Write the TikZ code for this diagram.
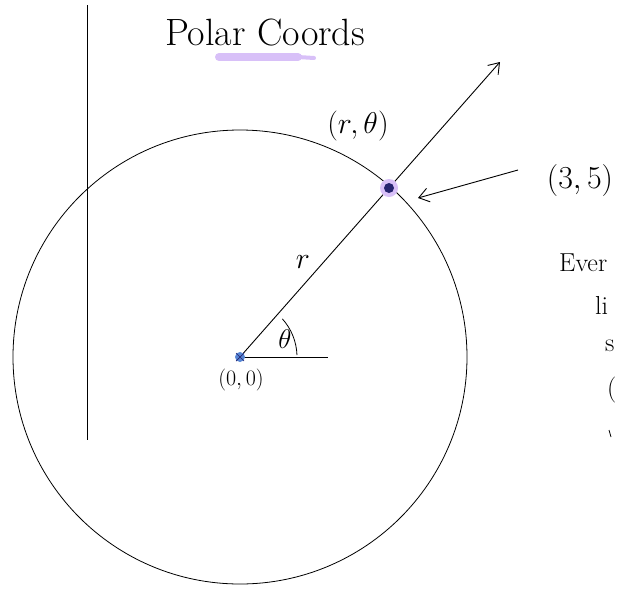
\RequirePackage{fix-cm}
\documentclass[tikz,border=0pt]{standalone}
\usetikzlibrary{positioning,arrows.meta}
\definecolor{lilac}{RGB}{216,192,248}
\definecolor{navy}{RGB}{38,36,112}
\definecolor{dotblue}{RGB}{86,134,212}

\begin{document}
\begin{tikzpicture}[
    x=1pt, y=-1pt,
    handtext/.style={font=\fontsize{30}{32}\selectfont, inner sep=1pt},
    smalltext/.style={font=\fontsize{22}{24}\selectfont, inner sep=1pt},
    notetext/.style={font=\fontsize{26}{28}\selectfont, inner sep=1pt, anchor=west},
    pen/.style={line width=0.8pt},
    arrow/.style={-{Straight Barb[length=10pt,width=14pt]}, line width=0.9pt},
]
\useasboundingbox (0,0) rectangle (618,592);
\clip (0,0) rectangle (618,592);

% Axis and circle
\coordinate (O) at (240,357);
\coordinate (P) at (389,188);
\coordinate (E) at (500,62);
\coordinate (H) at (328,357);
\draw[pen] (87,5) -- (87,440);
\draw[pen] (O) circle (227);

% Title
\node[handtext, font=\fontsize{38}{40}\selectfont] (title) at (265,33) {Polar Coords};
\draw[lilac, line width=8pt, line cap=round] (219,57) -- (298,57);
\draw[lilac, line width=4pt, line cap=round] (298,57) -- (314,58);

% Ray, angle and point
\draw[pen, arrow] (O) -- (E);
\draw[pen] (O) -- (H);
\draw[pen] ([shift={(-2:57)}]O) arc[start angle=-2, end angle=-42, radius=57];
\fill[lilac] (P) circle (9);
\fill[navy] (P) circle (5);
\fill[dotblue] (O) circle (5);
\draw[navy, line width=0.7pt] (236,353) -- (244,361) (236,361) -- (244,353);

% Labels
\node[handtext] (rt) at (358,126) {$(r,\theta)$};
\node[handtext, font=\fontsize{32}{34}\selectfont] (tf) at (580,180) {$(3,5)$};
\node[handtext] (rlab) at (303,262) {$r$};
\node[handtext, font=\fontsize{27}{29}\selectfont] (thlab) at (285,339) {$\theta$};
\node[smalltext] (org) at (241,380) {$(0,0)$};

% Arrow to the point
\coordinate (tfstart) at (518,170);
\coordinate (ptend) at (418,198);
\draw[arrow] (tfstart) -- (ptend);

% Cut-off notes
\node[notetext] (n1) at (558,263) {Ever};
\node[notetext] (n2) at (594,305) {li};
\node[notetext] (n3) at (604,346) {s};
\node[notetext] (n4) at (606,390) {(};
\draw[pen] (609,430) -- (611,437);
\end{tikzpicture}
\end{document}
